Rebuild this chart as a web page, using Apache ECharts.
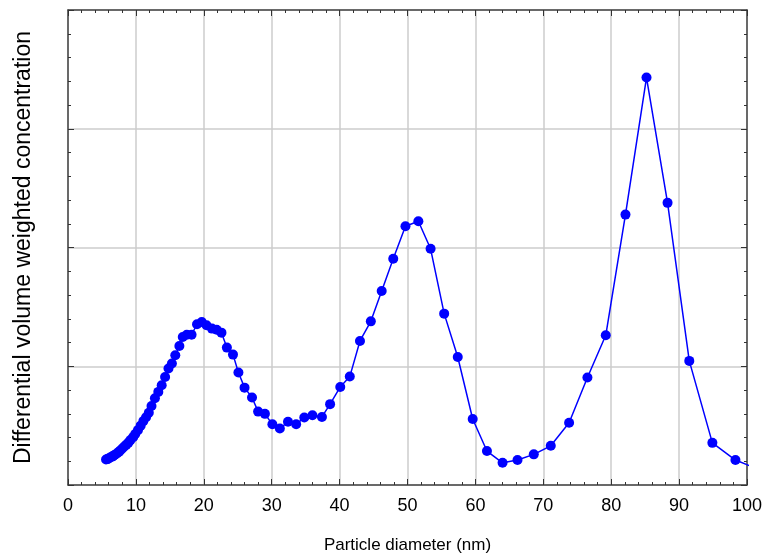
<!DOCTYPE html>
<html>
<head>
<meta charset="utf-8">
<script src="https://cdn.jsdelivr.net/npm/echarts@6/dist/echarts.min.js"></script>
<style>
  html, body { margin: 0; padding: 0; background: #fff; }
  #chart { width: 767px; height: 556px; }
</style>
</head>
<body>
<div id="chart"></div>
<script>
// diametro de particula (nm)
var diameters = [
    5.6, 5.8, 6.0, 6.2, 6.5, 6.7, 6.9, 7.2, 7.5, 7.7, 8.0, 8.3, 8.6, 8.9, 9.2, 9.6, 9.9,
    10.3, 10.7, 11.1, 11.5, 11.9, 12.3, 12.8, 13.3, 13.8, 14.3, 14.8, 15.3, 15.8, 16.4,
    16.9, 17.5, 18.2, 19.0, 19.7, 20.4, 21.2, 21.9, 22.6, 23.4, 24.3, 25.1, 26.0, 27.1,
    28.0, 29.0, 30.1, 31.2, 32.4, 33.6, 34.8, 36.0, 37.4, 38.6, 40.1, 41.5, 43.0, 44.6,
    46.2, 47.9, 49.7, 51.6, 53.4, 55.4, 57.4, 59.6, 61.7, 64.0, 66.2, 68.6, 71.1, 73.8,
    76.5, 79.2, 82.1, 85.2, 88.3, 91.5, 94.9, 98.3, 101.8
];

// concentracion diferencial (unidades arbitrarias, sin etiquetas en el eje)
var concentration = [
    0.214, 0.218, 0.224, 0.231, 0.239, 0.246, 0.254, 0.266, 0.279, 0.290, 0.307, 0.324,
    0.340, 0.357, 0.378, 0.403, 0.429, 0.462, 0.500, 0.538, 0.571, 0.609, 0.665, 0.731,
    0.784, 0.840, 0.910, 0.981, 1.023, 1.092, 1.171, 1.246, 1.266, 1.266, 1.353, 1.372,
    1.345, 1.317, 1.308, 1.283, 1.157, 1.098, 0.947, 0.820, 0.737, 0.618, 0.599, 0.511,
    0.476, 0.532, 0.511, 0.569, 0.588, 0.573, 0.681, 0.826, 0.913, 1.213, 1.378, 1.633,
    1.905, 2.179, 2.221, 1.989, 1.443, 1.078, 0.556, 0.286, 0.187, 0.210, 0.258, 0.330,
    0.524, 0.905, 1.261, 2.277, 3.431, 2.376, 1.045, 0.355, 0.210, 0.130
];

var xTicks = [0, 100, 10];
var yTicks = [0, 4, 1];

var chart = echarts.init(document.getElementById('chart'));

// cada eje con su propio objeto de estilo
function axisLine() { return { show: true, onZero: false, lineStyle: { color: '#444', width: 1.5 } }; }
function tickIn() { return { show: true, inside: true, length: 6, lineStyle: { color: '#333' } }; }
function minorIn() { return { show: true, splitNumber: 5, length: 3, lineStyle: { color: '#333' } }; }
function grid() { return { show: true, lineStyle: { color: '#cccccc', width: 1.5 } }; }

var option = {
    animation: false,
    grid: { left: 68, right: 20, top: 10, bottom: 71, containLabel: false, outerBoundsMode: 'none' },
    xAxis: [
        {
            type: 'value', min: xTicks[0], max: xTicks[1], interval: xTicks[2],
            position: 'bottom',
            axisLine: axisLine(), axisTick: tickIn(), minorTick: minorIn(), splitLine: grid(),
            axisLabel: { color: '#000', fontSize: 18, fontFamily: 'Liberation Sans', margin: 12 },
            name: 'Particle diameter (nm)', nameLocation: 'middle', nameGap: 52,
            nameTextStyle: { color: '#000', fontSize: 17, fontFamily: 'Liberation Sans' }
        },
        {
            type: 'value', min: xTicks[0], max: xTicks[1], interval: xTicks[2],
            position: 'top',
            axisLine: axisLine(), axisTick: tickIn(), minorTick: minorIn(),
            splitLine: { show: false }, axisLabel: { show: false }
        }
    ],
    yAxis: [
        {
            type: 'value', min: yTicks[0], max: yTicks[1], interval: yTicks[2],
            position: 'left',
            axisLine: axisLine(), axisTick: tickIn(), minorTick: minorIn(), splitLine: grid(),
            axisLabel: { show: false },
            name: 'Differential volume weighted concentration', nameLocation: 'middle', nameGap: 33,
            nameTextStyle: { color: '#000', fontSize: 23, fontFamily: 'Liberation Sans' }
        },
        {
            type: 'value', min: yTicks[0], max: yTicks[1], interval: yTicks[2],
            position: 'right',
            axisLine: axisLine(), axisTick: tickIn(), minorTick: minorIn(),
            splitLine: { show: false }, axisLabel: { show: false }
        }
    ],
    series: [{
        type: 'line',
        clip: true,
        data: diameters.map(function (d, i) { return [d, concentration[i]]; }),
        symbol: 'circle',
        symbolSize: 10,
        itemStyle: { color: '#0000ff' },
        lineStyle: { color: '#0000ff', width: 1.5 }
    }]
};

chart.setOption(option);
</script>
</body>
</html>
